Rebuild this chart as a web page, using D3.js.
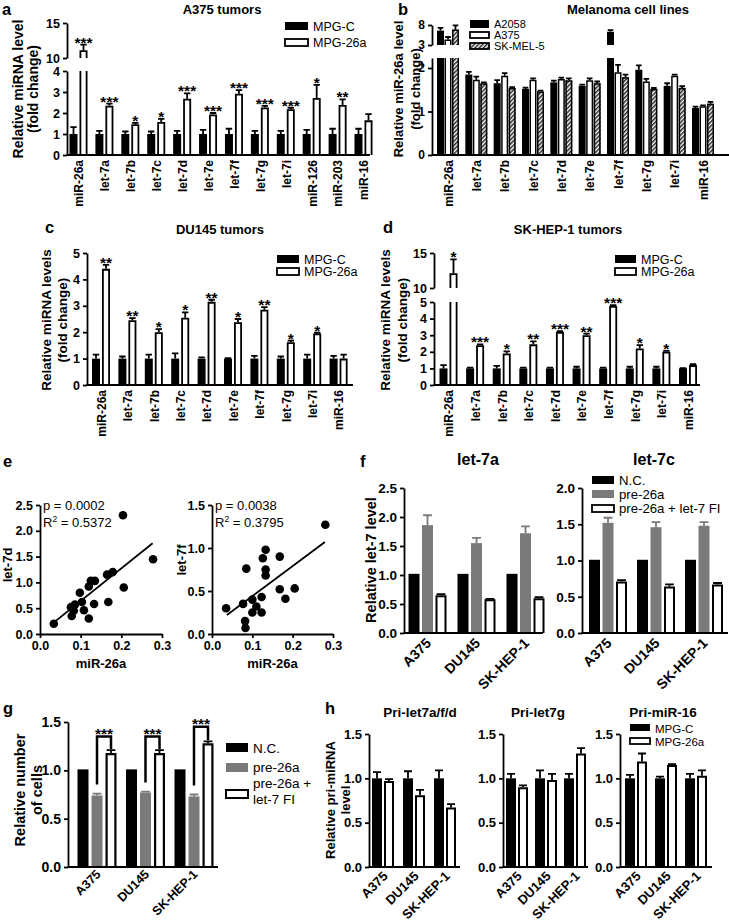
<!DOCTYPE html>
<html>
<head>
<meta charset="utf-8">
<script src="https://cdn.jsdelivr.net/npm/d3@7/dist/d3.min.js"></script>
<style>html,body{margin:0;padding:0;background:#fff;}</style>
</head>
<body>
<div id="chart"></div>
<script>
const FONT = "'Liberation Sans', Arial, Helvetica, sans-serif";

// ================= DATA =================
// a: A375 tumors
const catsA = ["miR-26a","let-7a","let-7b","let-7c","let-7d","let-7e","let-7f","let-7g","let-7i","miR-126","miR-203","miR-16"];
const aMPGC      = [1,1,1,1,1,1,1,1,1,1,1,1];
const aMPGCErr   = [0.33,0.15,0.12,0.12,0.15,0.2,0.25,0.15,0.15,0.2,0.25,0.25];
const aMPG26a    = [11.1,2.35,1.47,1.57,2.68,1.93,2.92,2.26,2.18,2.72,2.38,1.65];
const aMPG26aErr = [0.8,0.1,0.06,0.15,0.25,0.07,0.17,0.08,0.07,0.62,0.27,0.3];
const aStars     = ["***","***","*","*","***","***","***","***","***","*","**",""];
const aTicksLow  = [0,1,2,3,4];
const aTicksHigh = [10,15];

// b: Melanoma cell lines
const catsB = ["miR-26a","let-7a","let-7b","let-7c","let-7d","let-7e","let-7f","let-7g","let-7i","miR-16"];
const bA2058     = [6.6,1.85,1.65,1.52,1.67,1.59,6.3,1.96,1.59,1.08];
const bA2058Err  = [0.7,0.06,0.07,0.03,0.04,0.03,0.4,0.1,0.06,0.03];
const bA375      = [4.4,1.73,1.82,1.73,1.75,1.72,1.9,1.69,1.82,1.12];
const bA375Err   = [0.6,0.07,0.06,0.03,0.03,0.04,0.17,0.06,0.03,0.02];
const bSKMEL5    = [6.9,1.65,1.54,1.46,1.72,1.65,1.79,1.52,1.54,1.18];
const bSKMEL5Err = [1.0,0.02,0.02,0.02,0.04,0.04,0.06,0.02,0.04,0.04];
const bTicksLow  = [0,1,2];
const bTicksHigh = [3,8];

// c: DU145 tumors
const catsC = ["miR-26a","let-7a","let-7b","let-7c","let-7d","let-7e","let-7f","let-7g","let-7i","miR-16"];
const cMPGC      = [1,1,1,1,1,1,1,1,1,1];
const cMPGCErr   = [0.15,0.08,0.15,0.2,0.05,0.02,0.1,0.08,0.15,0.1];
const cMPG26a    = [4.4,2.45,2.0,2.55,3.15,2.38,2.85,1.62,1.95,1.0];
const cMPG26aErr = [0.15,0.08,0.12,0.2,0.08,0.12,0.1,0.06,0.03,0.15];
const cStars     = ["**","**","*","*","**","*","**","*","*",""];
const cTicks     = [0,1,2,3,4,5];

// d: SK-HEP-1 tumors
const catsD = ["miR-26a","let-7a","let-7b","let-7c","let-7d","let-7e","let-7f","let-7g","let-7i","miR-16"];
const dMPGC      = [1,1,1,1,1,1,1,1,1,1];
const dMPGCErr   = [0.2,0.05,0.15,0.05,0.05,0.1,0.05,0.1,0.1,0.02];
const dMPG26a    = [12.1,2.4,1.9,2.45,3.2,3.0,4.76,2.2,2.0,1.2];
const dMPG26aErr = [2.0,0.05,0.12,0.18,0.05,0.1,0.05,0.2,0.05,0.05];
const dStars     = ["*","***","*","**","***","**","***","*","*",""];
const dTicksLow  = [0,1,2,3,4,5];
const dTicksHigh = [10,15];

// e: correlations
const eX7d = [0.034,0.078,0.076,0.083,0.086,0.098,0.103,0.108,0.120,0.120,0.125,0.133,0.135,0.165,0.168,0.179,0.206,0.204,0.278];
const eY7d = [0.20,0.35,0.52,0.45,0.57,0.80,0.62,0.46,0.30,0.92,1.03,0.58,1.03,1.15,0.62,1.20,0.90,2.30,1.45];
const eFit7dX = [0.032,0.277];
const eFit7dY = [0.21,1.76];
const eX7f = [0.281,0.133,0.126,0.168,0.085,0.133,0.133,0.035,0.077,0.100,0.123,0.110,0.100,0.123,0.168,0.205,0.182,0.082,0.083];
const eY7f = [1.27,0.98,0.88,0.90,0.76,0.75,0.68,0.30,0.35,0.40,0.43,0.32,0.25,0.25,0.52,0.53,0.41,0.15,0.07];
const eFit7fX = [0.037,0.28];
const eFit7fY = [0.22,1.07];
const eXTicks = [0,0.1,0.2,0.3];
const eYTicks7d = [0,0.5,1,1.5,2,2.5];
const eYTicks7f = [0,0.5,1,1.5];

// f: let-7 levels
const groups = ["A375","DU145","SK-HEP-1"];
const f7aNC = [1.02,1.02,1.02];
const f7aPre = [1.86,1.55,1.72];
const f7aPreErr = [0.17,0.09,0.12];
const f7aFI = [0.65,0.58,0.6];
const f7aFIErr = [0.02,0.01,0.02];
const f7cNC = [1.01,1.01,1.01];
const f7cPre = [1.52,1.46,1.48];
const f7cPreErr = [0.07,0.07,0.05];
const f7cFI = [0.71,0.64,0.67];
const f7cFIErr = [0.02,0.03,0.02];
const fTicks7a = [0,0.5,1,1.5,2,2.5];
const fTicks7c = [0,0.5,1,1.5,2];

// g: cell number
const gNC = [1.01,1.01,1.01];
const gPre = [0.74,0.77,0.73];
const gPreErr = [0.02,0.01,0.02];
const gFI = [1.18,1.18,1.28];
const gFIErr = [0.03,0.03,0.02];
const gStars = ["***","***","***"];
const gBracketTop = [1.35,1.35,1.45];
const gTicks = [0,0.5,1,1.5];

// h: pri-miRNA
const h1C = [1,1,1],  h1CErr = [0.07,0.08,0.09];
const h126a = [0.97,0.81,0.67], h126aErr = [0.02,0.06,0.04];
const h2C = [1,1,1],  h2CErr = [0.05,0.09,0.05];
const h226a = [0.9,0.98,1.28], h226aErr = [0.02,0.07,0.06];
const h3C = [1,1,1],  h3CErr = [0.04,0.02,0.05];
const h326a = [1.19,1.15,1.03], h326aErr = [0.09,0.01,0.06];
const hTicks = [0,0.5,1,1.5];

// ================= DRAWING =================
const svg = d3.select("#chart").append("svg")
  .attr("width",729).attr("height",924)
  .attr("font-family",FONT)
  .style("display","block").style("background","#fff");

const defs = svg.append("defs");
const pat = defs.append("pattern").attr("id","hatch").attr("patternUnits","userSpaceOnUse")
  .attr("width",3).attr("height",3).attr("patternTransform","rotate(45)");
pat.append("rect").attr("width",3).attr("height",3).attr("fill","#fff");
pat.append("line").attr("x1",0.8).attr("y1",0).attr("x2",0.8).attr("y2",3).attr("stroke","#000").attr("stroke-width",1.3);

const GRAY = "#7a7a7a";
const FILLS = {black:"#000", white:"#fff", gray:GRAY, hatch:"url(#hatch)"};

function styleAxis(ag, fs) {
  ag.attr("font-family",FONT).attr("font-size",fs).attr("font-weight","bold");
  ag.select(".domain").attr("stroke","#000").attr("stroke-width",1.8);
  ag.selectAll(".tick line").attr("stroke","#000").attr("stroke-width",1.8);
  ag.selectAll(".tick text").attr("fill","#000");
}

function text(x, y, s, fs, weight, anchor, rot) {
  return svg.append("text")
    .attr("transform", `translate(${x},${y})` + (rot ? ` rotate(${rot})` : ""))
    .attr("font-size",fs).attr("font-weight",weight||"bold")
    .attr("text-anchor",anchor||"start").attr("fill","#000").text(s);
}
function yLabel(x, y, s, fs) { return text(x,y,s,fs,"bold","middle",-90).attr("dy","0.36em"); }

function drawBar(g, segs, xl, w, v, e, kind, sw) {
  segs.forEach(s => {
    const d0 = s.d[0], d1 = s.d[1];
    if (v <= d0) return;
    const closed = v <= d1;
    const yb = s.y(d0), yt = s.y(Math.min(v,d1));
    g.append("rect").attr("x",xl).attr("y",yt).attr("width",w).attr("height",Math.max(0,yb-yt)).attr("fill",FILLS[kind]);
    if (kind === "white" || kind === "hatch") {
      const h = sw/2;
      let p = `M${xl+h},${yb}V${closed ? yt+h : yt}`;
      p += closed ? `H${xl+w-h}V${yb}` : `M${xl+w-h},${yt}V${yb}`;
      g.append("path").attr("d",p).attr("fill","none").attr("stroke","#000").attr("stroke-width",sw);
    }
    if (closed && e > 0) {
      const ye = s.y(Math.min(v+e,d1)), cx = xl + w/2, cw = Math.max(2, w*0.4);
      g.append("path").attr("d",`M${cx},${yt}V${ye}M${cx-cw},${ye}H${cx+cw}`)
        .attr("stroke", kind === "gray" ? GRAY : "#000").attr("stroke-width",1.8).attr("fill","none");
    }
  });
}

function barChart(cfg) {
  const g = svg.append("g");
  const x = d3.scalePoint().domain(cfg.cats).range(cfg.centers);
  const segs = cfg.segs.map(s => Object.assign({}, s, {y: d3.scaleLinear().domain(s.d).range(s.r)}));
  const base = segs[0].y(segs[0].d[0]);
  const n = cfg.series.length, step = cfg.barW + cfg.gap, tot = n*cfg.barW + (n-1)*cfg.gap;
  cfg.series.forEach((ser,k) => {
    cfg.cats.forEach((c,i) => {
      const xl = x(c) - tot/2 + k*step;
      const v = ser.vals[i], e = ser.errs ? ser.errs[i] : 0;
      drawBar(g, segs, xl, cfg.barW, v, e, ser.kind, cfg.sw);
      if (ser.stars && ser.stars[i]) {
        const s = segs.filter(sg => v > sg.d[0]).pop();
        const ye = s.y(Math.min(v+e, s.d[1]));
        g.append("text").attr("x", xl + cfg.barW/2).attr("y", ye + 3).attr("text-anchor","middle")
          .attr("font-size",15.5).attr("font-weight","bold").attr("fill","#000").text(ser.stars[i]);
      }
    });
  });
  segs.forEach(s => {
    const ag = g.append("g").attr("transform",`translate(${cfg.axisX},0)`)
      .call(d3.axisLeft(s.y).tickValues(s.ticks).tickSize(4).tickSizeOuter(0).tickFormat(cfg.fmt));
    styleAxis(ag, cfg.tickFs);
  });
  const xa = g.append("g").attr("transform",`translate(0,${base})`).call(d3.axisBottom(x).tickSize(0));
  xa.select(".domain").remove();
  xa.attr("font-family",FONT);
  xa.append("line").attr("x1",cfg.axisX - 0.4).attr("x2",cfg.axisEnd).attr("y1",0).attr("y2",0)
    .attr("stroke","#000").attr("stroke-width",1.8);
  xa.selectAll(".tick text").attr("x",null).attr("y",null).attr("dy",null)
    .attr("font-size",cfg.catFs).attr("font-weight","bold").attr("fill","#000").attr("text-anchor","end")
    .attr("transform", cfg.catRot === -90
      ? `translate(${cfg.catFs*0.36},5) rotate(-90)`
      : `translate(${cfg.catDx||4},${cfg.catDy||10}) rotate(-45)`);
  return {g, x, segs, tot, step};
}

function legendItem(x, y, w, h, kind, label, fs, ty) {
  const r = svg.append("rect").attr("x",x).attr("y",y).attr("width",w).attr("height",h).attr("fill",FILLS[kind]);
  if (kind === "white" || kind === "hatch") r.attr("stroke","#000").attr("stroke-width",1.8);
  text(x + w + 5, ty !== undefined ? ty : y + h/2, label, fs, "normal", "start").attr("dy", ty !== undefined ? null : "0.36em");
}

const fmtInt = d3.format("d"), fmt1 = d3.format(".1f");

// ---------- panel a ----------
barChart({
  cats: catsA, centers:[78.5,363.5], axisX:67, axisEnd:370,
  segs:[{d:[0,4], r:[155,71], ticks:aTicksLow},{d:[10,15], r:[58,23], ticks:aTicksHigh}],
  series:[{vals:aMPGC, errs:aMPGCErr, kind:"black"},{vals:aMPG26a, errs:aMPG26aErr, kind:"white", stars:aStars}],
  barW:8, gap:2, sw:1.8, fmt:fmtInt, tickFs:12.5, catFs:12, catRot:-90
});
text(2,14.5,"a",16.5,"bold");
text(222,14,"A375 tumors",13,"bold","middle");
yLabel(18,89,"Relative miRNA level",14);
yLabel(33,89,"(fold change)",14);
legendItem(285,22,23,8,"black","MPG-C",12.5);
legendItem(285,39,23,7,"white","MPG-26a",12.5);

// ---------- panel b ----------
barChart({
  cats: catsB, centers:[448,703], axisX:432, axisEnd:729,
  segs:[{d:[0,2.23], r:[155,58], ticks:bTicksLow},{d:[3,8], r:[45,25], ticks:bTicksHigh}],
  series:[{vals:bA2058, errs:bA2058Err, kind:"black"},{vals:bA375, errs:bA375Err, kind:"white"},{vals:bSKMEL5, errs:bSKMEL5Err, kind:"hatch"}],
  barW:7, gap:0.5, sw:1.5, fmt:fmtInt, tickFs:12, catFs:12, catRot:-90
});
text(398,14.5,"b",16.5,"bold");
text(628,14,"Melanoma cell lines",13,"bold","middle");
yLabel(398,89,"Relative miR-26a level",13);
yLabel(415,89,"(fold change)",13);
legendItem(470,20,19,8,"black","A2058",11,28);
legendItem(470,32,19,6,"white","A375",11,39);
legendItem(470,43,19,6,"hatch","SK-MEL-5",11,50);

// ---------- panel c ----------
barChart({
  cats: catsC, centers:[101,338.6], axisX:87, axisEnd:353,
  segs:[{d:[0,5], r:[385,253], ticks:cTicks}],
  series:[{vals:cMPGC, errs:cMPGCErr, kind:"black"},{vals:cMPG26a, errs:cMPG26aErr, kind:"white", stars:cStars}],
  barW:8, gap:2, sw:1.8, fmt:fmtInt, tickFs:12.5, catFs:12, catRot:-90
});
text(45,233,"c",16.5,"bold");
text(220,234,"DU145 tumors",13,"bold","middle");
yLabel(46,320,"Relative miRNA levels",13.5);
yLabel(62,320,"(fold change)",13.5);
legendItem(277,255,22,8,"black","MPG-C",12.5);
legendItem(277,268,22,7,"white","MPG-26a",12.5);

// ---------- panel d ----------
barChart({
  cats: catsD, centers:[448.5,688], axisX:434, axisEnd:700,
  segs:[{d:[0,5], r:[385,302], ticks:dTicksLow},{d:[10,15], r:[288,253], ticks:dTicksHigh}],
  series:[{vals:dMPGC, errs:dMPGCErr, kind:"black"},{vals:dMPG26a, errs:dMPG26aErr, kind:"white", stars:dStars}],
  barW:8, gap:2, sw:1.8, fmt:fmtInt, tickFs:12.5, catFs:12, catRot:-90
});
text(383,233,"d",16.5,"bold");
text(568,234,"SK-HEP-1 tumors",13,"bold","middle");
yLabel(385,320,"Relative miRNA levels",13.5);
yLabel(402,320,"(fold change)",13.5);
legendItem(615,255,21,8,"black","MPG-C",12.5);
legendItem(615,268,21,7,"white","MPG-26a",12.5);

// ---------- panel e ----------
function scatter(cfg) {
  const g = svg.append("g");
  const x = d3.scaleLinear().domain([0,0.3]).range(cfg.xr);
  const y = d3.scaleLinear().domain(cfg.yd).range([634,505]);
  g.append("line").attr("x1",x(cfg.fitX[0])).attr("y1",y(cfg.fitY[0])).attr("x2",x(cfg.fitX[1])).attr("y2",y(cfg.fitY[1]))
    .attr("stroke","#000").attr("stroke-width",1.8);
  cfg.xs.forEach((v,i) => {
    g.append("circle").attr("cx",x(v)).attr("cy",y(cfg.ys[i])).attr("r",4.3).attr("fill","#000");
  });
  const ax = g.append("g").attr("transform","translate(0,634)")
    .call(d3.axisBottom(x).tickValues(eXTicks).tickFormat(fmt1).tickSize(4).tickSizeOuter(0));
  styleAxis(ax, 12.5);
  const ay = g.append("g").attr("transform",`translate(${cfg.xr[0]},0)`)
    .call(d3.axisLeft(y).tickValues(cfg.yt).tickFormat(fmt1).tickSize(4).tickSizeOuter(0));
  styleAxis(ay, 12.5);
  text((cfg.xr[0]+cfg.xr[1])/2, 668, "miR-26a", 13, "bold", "middle");
  text(cfg.xr[0]+3, 510, "p = " + cfg.p, 13, "normal", "start");
  const t = text(cfg.xr[0]+3, 527, "R", 13, "normal", "start");
  t.append("tspan").attr("font-size",8.5).attr("dy",-5).text("2");
  t.append("tspan").attr("dy",5).text(" = " + cfg.r2);
}
scatter({xr:[40,162], yd:[0,2.5], yt:eYTicks7d, xs:eX7d, ys:eY7d, fitX:eFit7dX, fitY:eFit7dY, p:"0.0002", r2:"0.5372"});
scatter({xr:[212,333], yd:[0,1.5], yt:eYTicks7f, xs:eX7f, ys:eY7f, fitX:eFit7fX, fitY:eFit7fY, p:"0.0038", r2:"0.3795"});
text(3,467,"e",16.5,"bold");
yLabel(7,565,"let-7d",13);
yLabel(181,560,"let-7f",13);

// ---------- panel f ----------
barChart({
  cats: groups, centers:[427.5,525.5], axisX:404, axisEnd:543,
  segs:[{d:[0,2.5], r:[633,488], ticks:fTicks7a}],
  series:[{vals:f7aNC, kind:"black"},{vals:f7aPre, errs:f7aPreErr, kind:"gray"},{vals:f7aFI, errs:f7aFIErr, kind:"white"}],
  barW:11, gap:2.5, sw:2, fmt:fmt1, tickFs:13.5, catFs:14, catRot:-45, catDx:4, catDy:11
});
barChart({
  cats: groups, centers:[608,704], axisX:582, axisEnd:728,
  segs:[{d:[0,2], r:[633,488], ticks:fTicks7c}],
  series:[{vals:f7cNC, kind:"black"},{vals:f7cPre, errs:f7cPreErr, kind:"gray"},{vals:f7cFI, errs:f7cFIErr, kind:"white"}],
  barW:11, gap:2.5, sw:2, fmt:fmt1, tickFs:13.5, catFs:14, catRot:-45, catDx:4, catDy:11
});
text(360,467,"f",16.5,"bold");
text(478,465,"let-7a",16,"bold","middle");
text(654,465,"let-7c",16,"bold","middle");
yLabel(371,560,"Relative let-7 level",14.5);
legendItem(592,476,22,8,"black","N.C.",13.2,484.5);
legendItem(592,490,22,8,"gray","pre-26a",13.2,498.5);
legendItem(592,505,22,7,"white","pre-26a + let-7 FI",13.2,512.5);

// ---------- panel g ----------
const gChart = barChart({
  cats: groups, centers:[97,194], axisX:68, axisEnd:218,
  segs:[{d:[0,1.5], r:[867,722], ticks:gTicks}],
  series:[{vals:gNC, kind:"black"},{vals:gPre, errs:gPreErr, kind:"gray"},{vals:gFI, errs:gFIErr, kind:"white"}],
  barW:11, gap:3, sw:2.2, fmt:fmt1, tickFs:14, catFs:12.5, catRot:-45, catDx:4, catDy:8
});
{
  const y = gChart.segs[0].y;
  groups.forEach((c,i) => {
    const xl0 = gChart.x(c) - gChart.tot/2;
    const xg = xl0 + gChart.step + 11/2, xw = xl0 + 2*gChart.step + 11/2;
    const yTop = y(gBracketTop[i]);
    const yL = y(gPre[i] + gPreErr[i]) - 9, yR = y(gFI[i] + gFIErr[i]) - 1;
    svg.append("path").attr("d",`M${xg},${yL}V${yTop}H${xw}V${yR}`)
      .attr("fill","none").attr("stroke","#000").attr("stroke-width",2.5);
    text((xg+xw)/2, yTop + 2, gStars[i], 15.5, "bold", "middle");
  });
}
text(3,714,"g",16.5,"bold");
yLabel(20,790,"Relative number",14.5);
yLabel(37,790,"of cells",14.5);
legendItem(226,743,22,9,"black","N.C.",13.5,752.5);
legendItem(226,763,22,9,"gray","pre-26a",13.5,772);
svg.append("rect").attr("x",226).attr("y",790).attr("width",22).attr("height",8)
  .attr("fill","#fff").attr("stroke","#000").attr("stroke-width",2);
text(253,788,"pre-26a +",13.5,"normal","start");
text(253,804,"let-7 FI",13.5,"normal","start");

// ---------- panel h ----------
const hCfgs = [
  {axisX:369, axisEnd:460, centers:[383,445], c:h1C, ce:h1CErr, t:h126a, te:h126aErr},
  {axisX:503, axisEnd:588, centers:[517,575], c:h2C, ce:h2CErr, t:h226a, te:h226aErr},
  {axisX:620, axisEnd:712, centers:[636,696], c:h3C, ce:h3CErr, t:h326a, te:h326aErr}
];
hCfgs.forEach(h => {
  barChart({
    cats: groups, centers:h.centers, axisX:h.axisX, axisEnd:h.axisEnd,
    segs:[{d:[0,1.5], r:[867,734], ticks:hTicks}],
    series:[{vals:h.c, errs:h.ce, kind:"black"},{vals:h.t, errs:h.te, kind:"white"}],
    barW:10, gap:2, sw:2, fmt:fmt1, tickFs:13, catFs:13, catRot:-45, catDx:5, catDy:10
  });
});
text(325,714,"h",16.5,"bold");
text(420,717,"Pri-let7a/f/d",13.5,"bold","middle");
text(538,717,"Pri-let7g",13.5,"bold","middle");
text(663,717,"Pri-miR-16",13.5,"bold","middle");
yLabel(330,800,"Relative pri-miRNA",13);
yLabel(345,800,"level",13);
legendItem(630,724,20,7,"black","MPG-C",11.5,732.5);
legendItem(630,738,20,6,"white","MPG-26a",11.5,746);
</script>
</body>
</html>
